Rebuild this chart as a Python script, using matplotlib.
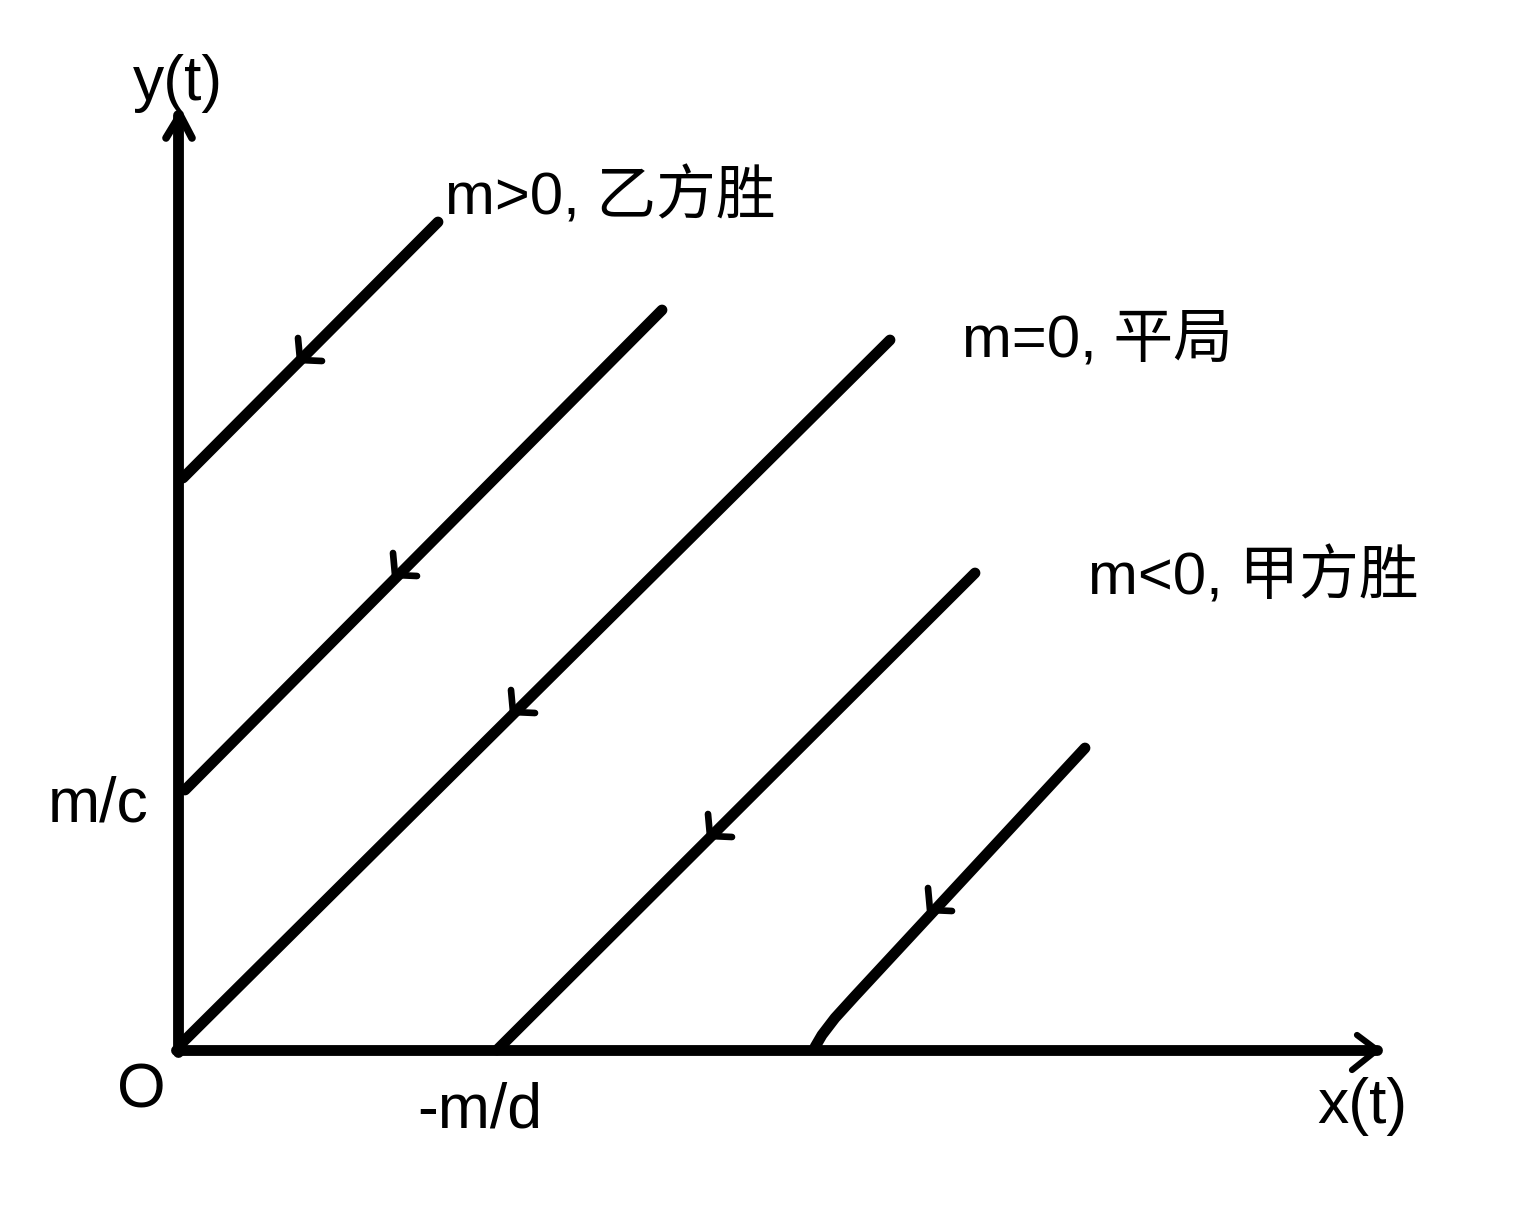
import matplotlib
matplotlib.use('Agg')
import matplotlib.pyplot as plt

plt.rcParams['font.family'] = ['Liberation Sans', 'Noto Sans CJK SC', 'DejaVu Sans']

# trajectories (x, y), all with slope ~1, drawn in pixel-like units from origin O
traj_x = [
    [5, 260],
    [7, 484],
    [2, 712],
    [319, 797],
    [637, 644, 657, 677, 907],
]
traj_y = [
    [572, 828],
    [260, 740],
    [5, 710],
    [0, 477],
    [3, 15, 32, 54, 302],
]

# direction marks along each trajectory (tip points, pointing down-left)
arrow_x = [122, 217, 335, 532, 752]
arrow_y = [690, 475, 338, 214, 140]
barb = 22

labels = ['m>0, 乙方胜', 'm=0, 平局', 'm<0, 甲方胜']
label_x = [267, 784, 910]
label_y = [835, 693, 455]

x_end = 1199
y_end = 935

fig = plt.figure(figsize=(15.22, 12.05), dpi=100)
ax = fig.add_axes([0, 0, 1, 1])
ax.set_xlim(-178, 1522 - 178)
ax.set_ylim(-155, 1050)
ax.axis('off')

lw = 7.8
# axes
ax.plot([0, 0], [-2, y_end], color='black', lw=lw, solid_capstyle='round')
ax.plot([-2, x_end], [0, 0], color='black', lw=lw, solid_capstyle='round')
ax.plot([-12, 2, 14], [912, y_end, 912], color='black', lw=5.5, solid_capstyle='round',
        solid_joinstyle='round')
ax.plot([1179, x_end, 1174], [15, 0, -20], color='black', lw=4.5, solid_capstyle='round',
        solid_joinstyle='round')

for xs, ys in zip(traj_x, traj_y):
    ax.plot(xs, ys, color='black', lw=lw, solid_capstyle='round', solid_joinstyle='round')

for xa, ya in zip(arrow_x, arrow_y):
    ax.plot([xa - 2, xa, xa + barb], [ya + barb, ya, ya - 1], color='black', lw=4.8,
            solid_capstyle='round', solid_joinstyle='round')

fs = 43
for s, xl, yl in zip(labels, label_x, label_y):
    ax.text(xl, yl, s, fontsize=fs, ha='left', va='baseline')

fs2 = 45
ax.text(-45, 950, 'y(t)', fontsize=fs2, ha='left', va='baseline')
ax.text(-130, 228, 'm/c', fontsize=fs2, ha='left', va='baseline')
ax.text(-61, -58, 'O', fontsize=fs2, ha='left', va='baseline')
ax.text(239, -77, '-m/d', fontsize=fs2, ha='left', va='baseline')
ax.text(1139, -73, 'x(t)', fontsize=fs2, ha='left', va='baseline')

plt.savefig('out.png', dpi=100)
